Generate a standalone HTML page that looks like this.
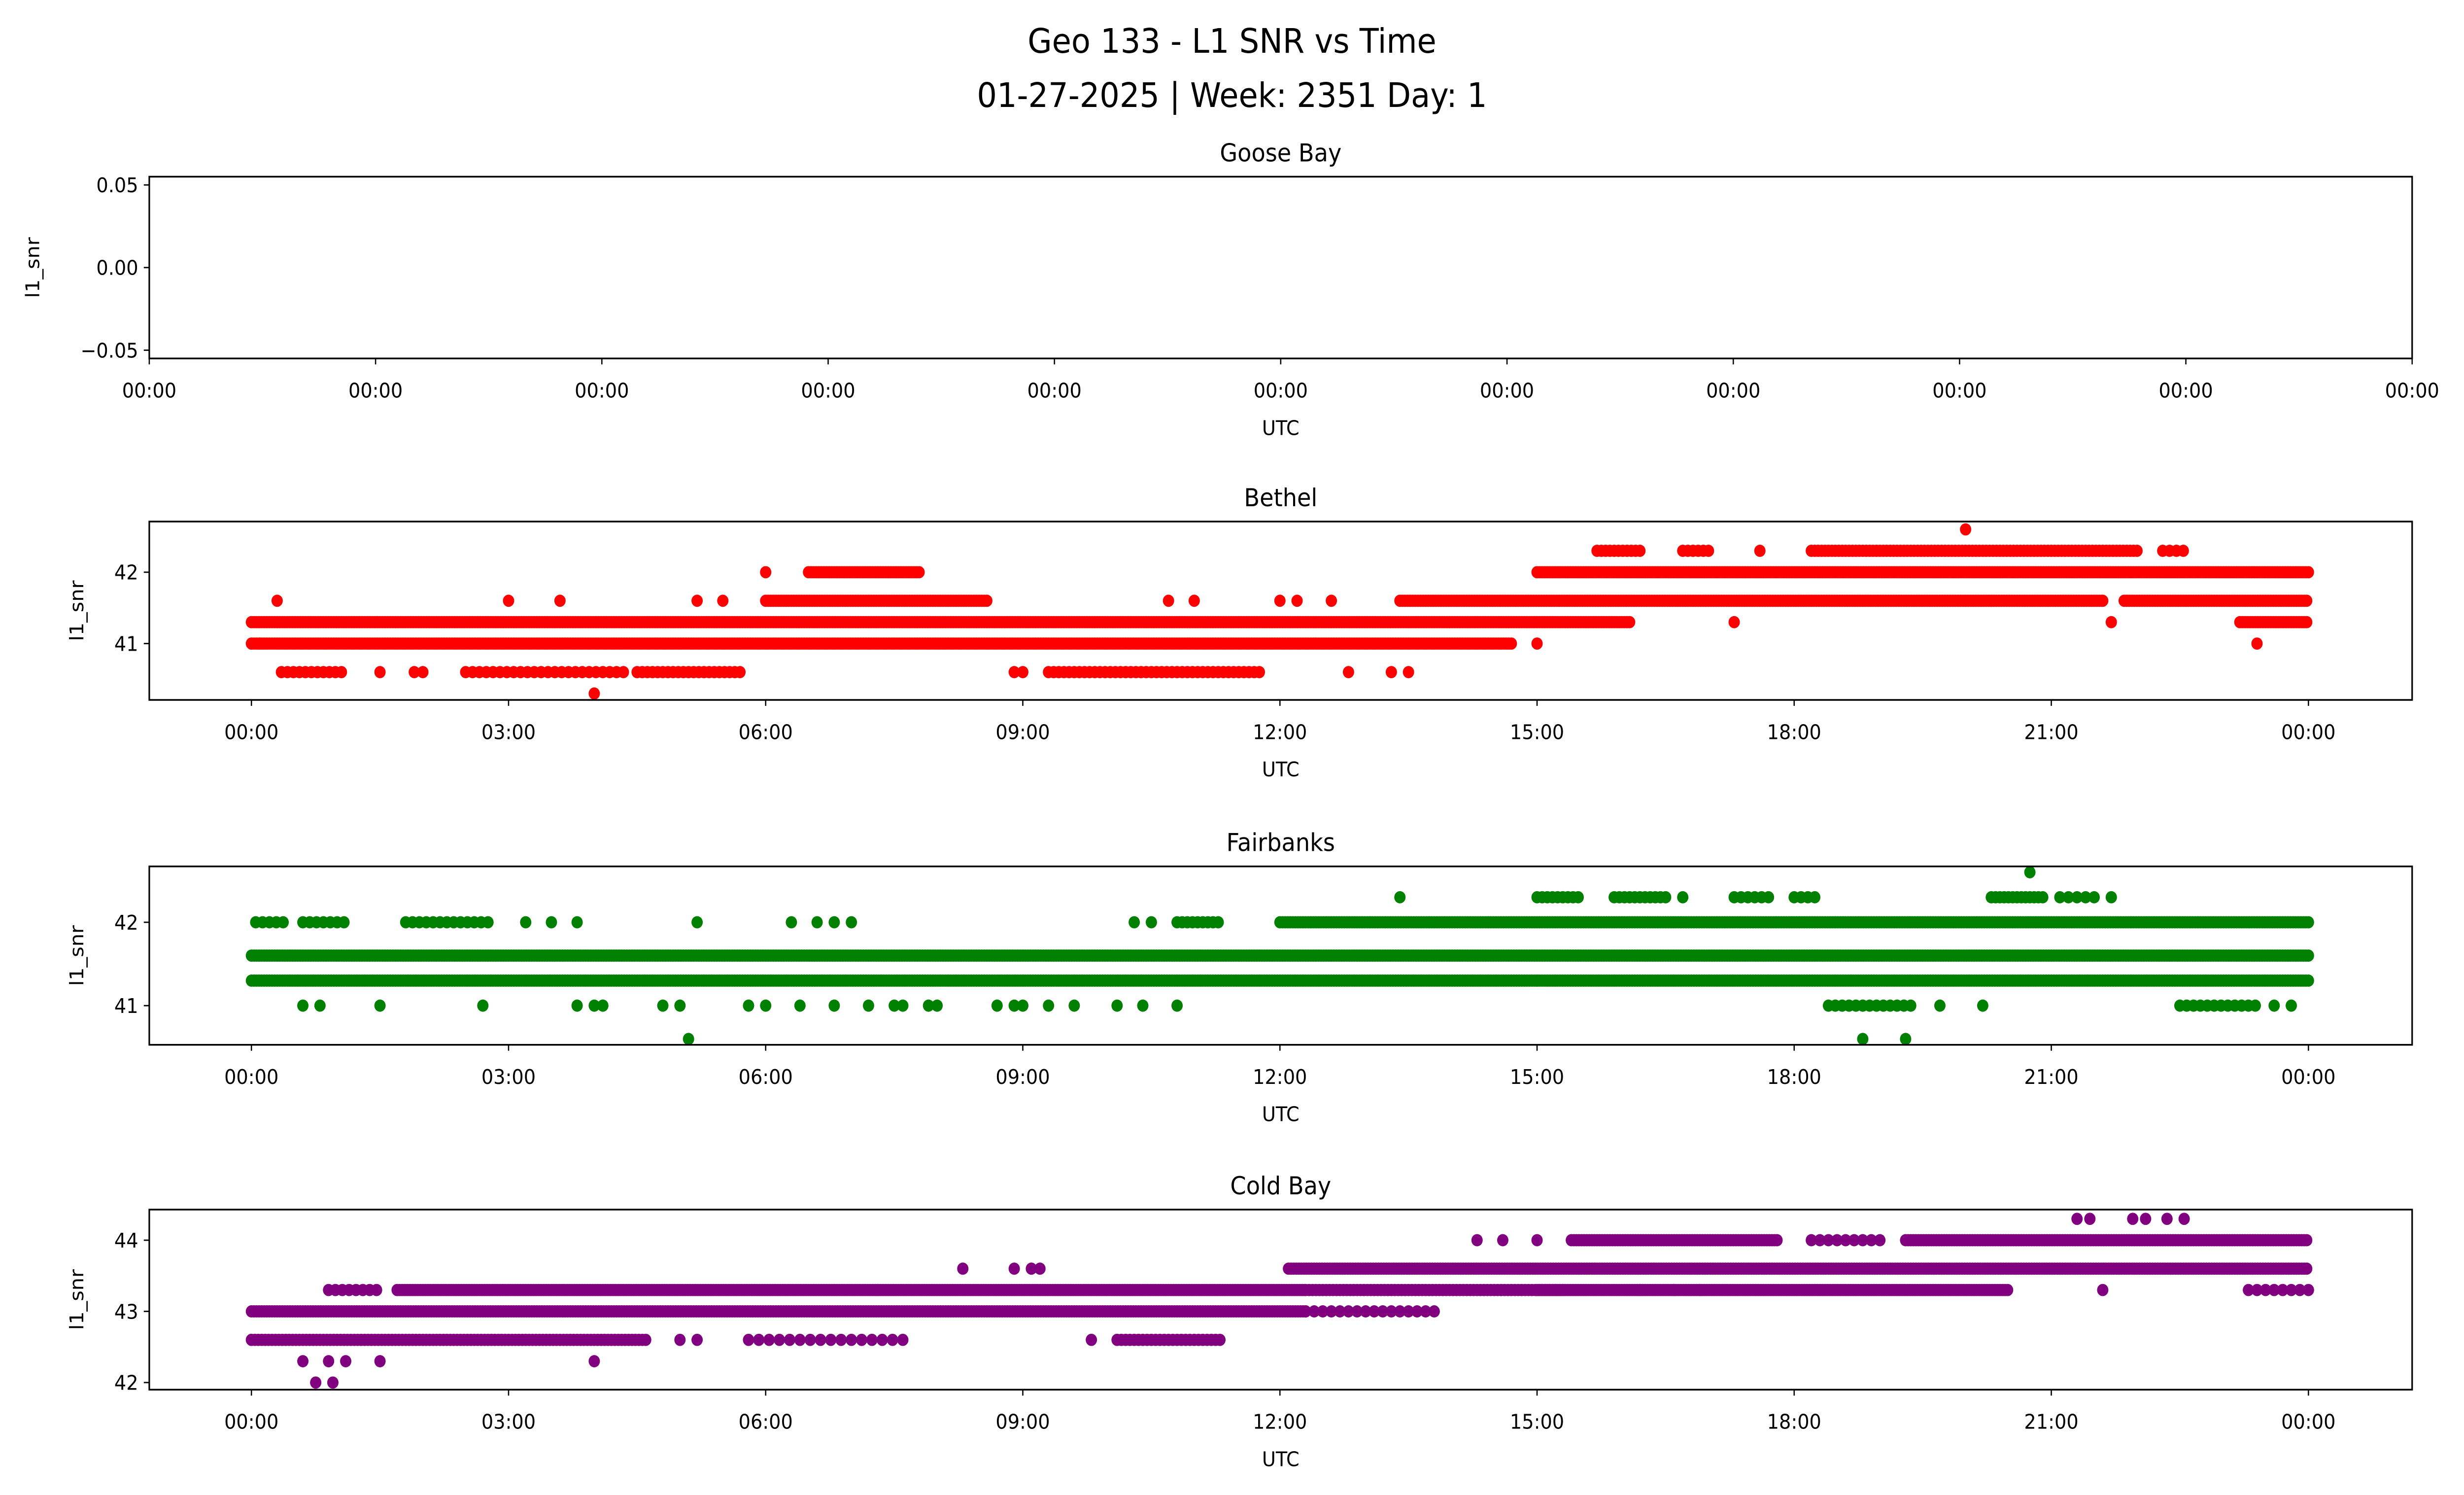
<!DOCTYPE html>
<html><head><meta charset="utf-8"><style>
html,body{margin:0;padding:0;background:#fff;overflow:hidden;width:100%;height:100%}
svg{display:block;position:absolute;left:0;top:0;width:100vw;height:100vh}
text{font-family:"DejaVu Sans","Liberation Sans",sans-serif;fill:#000}
</style></head><body>
<svg id="chart" xmlns="http://www.w3.org/2000/svg" viewBox="0 0 1568 880" preserveAspectRatio="none">
<rect width="1568" height="880" fill="#fff"/>
<text x="784" y="31" font-size="20" text-anchor="middle">Geo 133 - L1 SNR vs Time</text>
<text x="784" y="63" font-size="20" text-anchor="middle">01-27-2025 | Week: 2351 Day: 1</text>
<g id="plots"></g>
</svg>
<script>
// Data: runs = [snr value, start hour, end hour, step hours]; points = [hour, snr]
const hourTicks = [0,3,6,9,12,15,18,21,24];
const hourTickLabels = ["00:00","03:00","06:00","09:00","12:00","15:00","18:00","21:00","00:00"];
const gooseTicks = [0.05,0.00,-0.05];
const gooseTickLabels = ["0.05","0.00","−0.05"];
const bethelTicks = [41,42];
const fairTicks = [41,42];
const coldTicks = [42,43,44];
const bethelRuns = [
 [41.0,0,14.7,0.03],[41.3,0,16.1,0.03],[41.3,23.2,24,0.03],
 [41.6,6.0,8.6,0.03],[41.6,13.4,21.6,0.03],[41.6,21.85,24,0.03],
 [42.0,6.5,7.8,0.03],[42.0,15.0,24,0.03],
 [42.3,15.7,16.2,0.05],[42.3,16.7,17.0,0.06],[42.3,18.2,22.0,0.04],[42.3,22.3,22.6,0.08],
 [40.6,0.35,1.1,0.07],[40.6,2.5,4.4,0.08],[40.6,4.5,5.7,0.06],[40.6,9.3,11.8,0.06]
];
const bethelPoints = [[0.3,41.6],[1.5,40.6],[1.9,40.6],[2.0,40.6],[3.0,41.6],[3.6,41.6],[4.0,40.3],[5.2,41.6],[5.5,41.6],[6.0,42.0],[8.9,40.6],[9.0,40.6],[10.7,41.6],[11.0,41.6],[12.0,41.6],[12.2,41.6],[12.6,41.6],[12.8,40.6],[13.3,40.6],[13.5,40.6],[15.0,41.0],[17.3,41.3],[17.6,42.3],[20.0,42.6],[20.3,41.6],[21.6,41.6],[21.7,41.3],[23.4,41.0],[0.1,41.0]];
const fairRuns = [
 [41.6,0,24,0.03],[41.3,0,24,0.03],
 [42.0,10.8,11.3,0.06],[42.0,12.0,24,0.03],[42.0,1.8,2.8,0.08],[42.0,0.05,0.4,0.08],[42.0,0.6,1.1,0.08],
 [42.3,15.0,15.5,0.06],[42.3,15.9,16.5,0.06],[42.3,17.3,17.7,0.08],[42.3,18.0,18.3,0.08],[42.3,20.3,20.9,0.05],[42.3,21.1,21.5,0.1],
 [41.0,18.4,19.4,0.08],[41.0,22.5,23.4,0.08]
];
const fairPoints = [[0.6,41.0],[0.8,41.0],[1.5,41.0],[2.7,41.0],[3.8,41.0],[4.0,41.0],[4.1,41.0],[4.8,41.0],[5.0,41.0],[5.2,42.0],[5.8,41.0],[6.0,41.0],[6.4,41.0],[6.3,42.0],[6.6,42.0],[6.8,42.0],[7.0,42.0],[6.8,41.0],[7.2,41.0],[7.5,41.0],[7.6,41.0],[7.9,41.0],[8.0,41.0],[8.7,41.0],[8.9,41.0],[9.0,41.0],[9.3,41.0],[9.6,41.0],[10.1,41.0],[10.4,41.0],[10.8,41.0],[3.2,42.0],[3.5,42.0],[3.8,42.0],[10.3,42.0],[10.5,42.0],[13.4,42.3],[16.7,42.3],[21.7,42.3],[20.75,42.6],[5.1,40.6],[18.8,40.6],[19.3,40.6],[19.7,41.0],[20.2,41.0],[23.6,41.0],[23.8,41.0],[15.0,41.3]];
const coldRuns = [
 [43.0,0,12.3,0.03],[42.6,0,4.6,0.04],[42.6,10.1,11.3,0.05],[42.6,5.8,7.7,0.12],
 [43.3,1.7,12.3,0.03],[43.3,12.3,15.3,0.04],[43.3,15.0,20.5,0.03],[43.3,23.3,24,0.1],[43.3,0.9,1.5,0.08],
 [43.6,12.1,24,0.03],[44.0,15.4,17.8,0.03],[44.0,18.2,19.0,0.1],[44.0,19.3,24,0.03],[43.0,12.3,13.8,0.1]
];
const coldPoints = [[0.6,42.3],[0.9,42.3],[1.1,42.3],[1.5,42.3],[4.0,42.3],[0.75,42.0],[0.95,42.0],[8.3,43.6],[8.9,43.6],[9.1,43.6],[9.2,43.6],[9.8,42.6],[5.0,42.6],[5.2,42.6],[14.3,44.0],[14.6,44.0],[15.0,44.0],[21.3,44.3],[21.45,44.3],[21.95,44.3],[22.1,44.3],[22.35,44.3],[22.55,44.3],[21.6,43.3],[16.2,43.3],[16.6,43.3],[16.9,43.3]];

const NS = "http://www.w3.org/2000/svg";
const plots = document.getElementById('plots');
function mk(tag, attrs, parent){const e=document.createElementNS(NS,tag);for(const k in attrs)e.setAttribute(k,attrs[k]);(parent||plots).appendChild(e);return e;}
function txt(s, attrs, parent){const e=mk('text',attrs,parent);e.textContent=s;return e;}

function panel(cfg){
  const g = mk('g',{});
  
  
  const L=95,R=1535,T=cfg.top,B=cfg.bottom;
  const xs = cfg.xs, ys = h=>B-(h-cfg.ymin)/(cfg.ymax-cfg.ymin)*(B-T);
  const t = txt(cfg.title,{x:(L+R)/2,y:T-9,'font-size':14.5,'text-anchor':'middle'},g);
  
  
  const dots = mk('g',{fill:cfg.color},g);
  
  
  (cfg.runs||[]).forEach(r=>{for(let h=r[1];h<=r[2]+1e-9;h+=r[3]){mk('circle',{cx:xs(h),cy:ys(r[0]),r:3.6},dots);}});
  (cfg.points||[]).forEach(p=>{mk('circle',{cx:xs(p[0]),cy:ys(p[1]),r:3.6},dots);});
  const fr = mk('rect',{x:L,y:T,width:R-L,height:B-T,fill:'none',stroke:'#000','stroke-width':1},g);
  
  
  cfg.xt.forEach((h,i)=>{const x=xs(h);mk('line',{x1:x,x2:x,y1:B,y2:B+3.5,stroke:'#000','stroke-width':0.8},g);
    const l=txt(cfg.xl[i],{x:x,y:B+23,'font-size':12,'text-anchor':'middle'},g);
    
    });
  cfg.yt.forEach((v,i)=>{const y=ys(v);mk('line',{x1:L-3.5,x2:L,y1:y,y2:y,stroke:'#000','stroke-width':0.8},g);
    const l=txt(cfg.yl[i],{x:L-7,y:y+4.3,'font-size':12,'text-anchor':'end'},g);
    
    });
  const xl = txt('UTC',{x:(L+R)/2,y:B+45,'font-size':12,'text-anchor':'middle'},g);
  
  
  const yx = cfg.ylx, yy=(T+B)/2;
  const yl = txt('l1_snr',{x:yx,y:yy,'font-size':12,'text-anchor':'middle',transform:`rotate(-90 ${yx} ${yy})`},g);
  
  
}
const hx = h=>160+h*(1469-160)/24;
const gooseX = [0,1,2,3,4,5,6,7,8,9,10];
panel({name:'goose-bay',title:'Goose Bay',top:104,bottom:211,ymin:-0.055,ymax:0.055,color:'#1f77b4',
  xs:i=>95+i*144,xt:gooseX,xl:gooseX.map(()=> '00:00'),yt:gooseTicks,yl:gooseTickLabels,ylx:25});
panel({name:'bethel',title:'Bethel',top:307,bottom:412,ymin:40.21,ymax:42.71,color:'#ff0000',
  xs:hx,xt:hourTicks,xl:hourTickLabels,yt:bethelTicks,yl:bethelTicks.map(String),ylx:53,runs:bethelRuns,points:bethelPoints});
panel({name:'fairbanks',title:'Fairbanks',top:510,bottom:615,ymin:40.53,ymax:42.67,color:'#008000',
  xs:hx,xt:hourTicks,xl:hourTickLabels,yt:fairTicks,yl:fairTicks.map(String),ylx:53,runs:fairRuns,points:fairPoints});
panel({name:'cold-bay',title:'Cold Bay',top:712,bottom:818,ymin:41.9,ymax:44.43,color:'#800080',
  xs:hx,xt:hourTicks,xl:hourTickLabels,yt:coldTicks,yl:coldTicks.map(String),ylx:53,runs:coldRuns,points:coldPoints});
</script>
</body></html>
